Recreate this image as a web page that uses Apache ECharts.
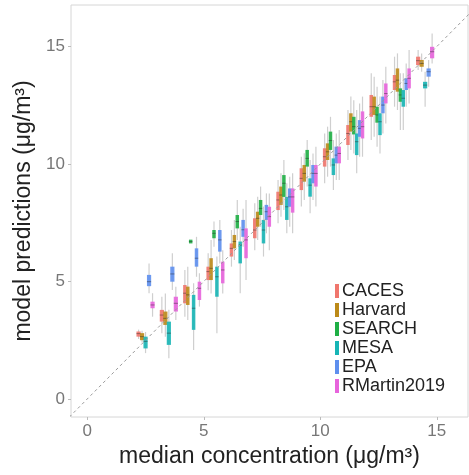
<!DOCTYPE html>
<html>
<head>
<meta charset="utf-8">
<script src="https://cdn.jsdelivr.net/npm/echarts@6/dist/echarts.min.js"></script>
<style>
html,body{margin:0;padding:0;background:#fff;}
#chart{width:469px;height:475px;}
</style>
</head>
<body>
<div id="chart"></div>
<script>
// Models and colours
const models = ['CACES', 'Harvard', 'SEARCH', 'MESA', 'EPA', 'RMartin2019'];
const colors = ['#F0766D', '#BC8A18', '#1FAF45', '#17B5B5', '#5E8FEE', '#E764DC'];

// Each entry: [bin centre, lower whisker, Q1, median, Q3, upper whisker]
const CACES = [
  [2.5, 2.55, 2.65, 2.78, 2.87, 2.95],
  [3.5, 2.80, 3.29, 3.57, 3.79, 4.35],
  [4.5, 3.50, 4.07, 4.50, 4.85, 5.49],
  [5.5, 4.63, 5.06, 5.42, 5.63, 6.20],
  [6.5, 5.63, 6.06, 6.41, 6.62, 7.19],
  [7.5, 6.33, 6.84, 7.19, 7.69, 8.33],
  [8.5, 7.48, 8.04, 8.47, 8.82, 9.32],
  [9.5, 8.19, 8.89, 9.39, 9.82, 10.31],
  [10.5, 9.18, 9.89, 10.31, 10.67, 11.30],
  [11.5, 10.17, 10.81, 11.30, 11.66, 12.30],
  [12.5, 11.02, 12.01, 12.44, 12.94, 13.86],
  [13.5, 12.44, 13.15, 13.50, 13.79, 14.57],
  [14.5, 14.00, 14.21, 14.40, 14.57, 14.85]
];
const Harvard = [
  [2.5, 2.40, 2.50, 2.65, 2.80, 2.90],
  [3.5, 2.65, 3.15, 3.43, 3.72, 4.49],
  [4.5, 3.36, 4.00, 4.43, 4.78, 5.63],
  [5.5, 4.49, 5.06, 5.56, 5.99, 6.77],
  [6.5, 5.91, 6.41, 6.70, 6.98, 7.62],
  [7.5, 6.77, 7.33, 7.69, 7.97, 8.61],
  [8.5, 7.76, 8.26, 8.68, 9.04, 9.61],
  [9.5, 8.47, 9.25, 9.60, 9.96, 10.46],
  [10.5, 9.46, 10.17, 10.52, 10.88, 11.59],
  [11.5, 10.60, 11.38, 11.80, 12.16, 12.87],
  [12.5, 11.16, 12.09, 12.44, 12.87, 13.72],
  [13.5, 12.30, 13.08, 13.57, 14.07, 14.71],
  [14.5, 13.93, 14.14, 14.28, 14.43, 14.71]
];
const SEARCH = [
  [4.5, 6.70, 6.62, 6.70, 6.78, 6.70],
  [5.5, 6.48, 6.84, 7.05, 7.19, 7.55],
  [6.5, 6.77, 7.26, 7.55, 7.83, 8.47],
  [7.5, 7.33, 7.83, 8.11, 8.47, 9.04],
  [8.5, 8.04, 8.60, 9.18, 9.53, 10.17],
  [9.5, 9.04, 9.89, 10.24, 10.60, 11.02],
  [10.5, 9.89, 10.60, 11.00, 11.38, 12.01],
  [11.5, 10.45, 11.26, 11.59, 12.01, 12.72],
  [12.5, 10.74, 11.76, 12.09, 12.44, 13.29],
  [13.5, 11.45, 12.65, 12.94, 13.22, 13.86]
];
const MESA = [
  [2.5, 1.95, 2.15, 2.45, 2.65, 2.85],
  [3.5, 1.73, 2.30, 2.80, 3.29, 3.80],
  [4.5, 2.08, 2.94, 3.86, 4.43, 4.92],
  [5.5, 2.80, 4.35, 5.20, 5.63, 6.06],
  [6.5, 4.50, 5.77, 6.55, 6.70, 7.33],
  [7.5, 6.06, 6.62, 7.19, 7.62, 8.19],
  [8.5, 7.05, 7.62, 8.18, 8.60, 9.18],
  [9.5, 7.90, 8.61, 9.10, 9.39, 10.17],
  [10.5, 8.89, 9.53, 9.96, 10.24, 11.02],
  [11.5, 9.61, 10.38, 10.95, 11.30, 12.30],
  [12.5, 10.45, 11.23, 11.80, 12.16, 12.87],
  [13.5, 11.45, 12.44, 12.80, 13.15, 13.86],
  [14.5, 12.44, 13.22, 13.36, 13.50, 13.93]
];
const EPA = [
  [2.5, 4.50, 4.80, 4.99, 5.28, 5.77],
  [3.5, 4.64, 4.99, 5.32, 5.63, 6.20],
  [4.5, 5.20, 5.63, 5.99, 6.41, 6.90],
  [5.5, 5.77, 6.27, 6.77, 7.19, 7.62],
  [6.5, 6.48, 6.90, 7.20, 7.62, 8.10],
  [7.5, 7.05, 7.62, 7.97, 8.26, 8.75],
  [8.5, 7.33, 8.18, 8.60, 8.96, 9.46],
  [9.5, 8.47, 9.18, 9.60, 9.96, 10.45],
  [10.5, 9.32, 10.03, 10.38, 10.74, 11.30],
  [11.5, 10.31, 11.16, 11.52, 11.87, 12.58],
  [12.5, 11.30, 12.16, 12.51, 12.87, 13.58],
  [13.5, 12.44, 13.15, 13.43, 13.65, 14.28],
  [14.5, 13.29, 13.72, 13.93, 14.07, 14.43]
];
const RMartin2019 = [
  [2.5, 3.50, 3.86, 4.00, 4.14, 4.50],
  [3.5, 3.36, 3.72, 4.07, 4.35, 4.78],
  [4.5, 3.93, 4.21, 4.71, 4.99, 5.35],
  [5.5, 4.49, 4.92, 5.49, 5.84, 6.33],
  [6.5, 5.06, 5.99, 6.77, 7.26, 8.47],
  [7.5, 6.33, 7.33, 7.76, 8.18, 8.75],
  [8.5, 7.05, 7.93, 8.60, 8.96, 9.61],
  [9.5, 8.19, 9.04, 9.60, 9.96, 10.74],
  [10.5, 9.32, 10.03, 10.45, 10.74, 11.45],
  [11.5, 10.31, 11.09, 11.59, 12.24, 12.87],
  [12.5, 11.73, 12.58, 13.00, 13.43, 14.14],
  [13.5, 12.58, 13.22, 13.65, 14.07, 14.85],
  [14.5, 14.28, 14.50, 14.78, 14.99, 15.56]
];
const seriesData = [CACES, Harvard, SEARCH, MESA, EPA, RMartin2019];

// Axis ticks
const xTicks = [0, 5, 10, 15];
const yTicks = [0, 5, 10, 15];
const xRange = [-0.7, 16.34];
const yRange = [-0.77, 16.77];

// dodge: count models present in each bin and assign slots in model order
const binCount = {};
seriesData.forEach(arr => arr.forEach(d => { binCount[d[0]] = (binCount[d[0]] || 0) + 1; }));
const slotIdx = {};
const dodged = seriesData.map(arr => arr.map(d => {
  const b = d[0];
  slotIdx[b] = slotIdx[b] === undefined ? 0 : slotIdx[b] + 1;
  return [b, slotIdx[b], binCount[b], d[1], d[2], d[3], d[4], d[5]];
}));

const DODGE = 0.75;
function renderItem(params, api) {
  const x = api.value(0), slot = api.value(1), n = api.value(2);
  const lo = api.value(3), q1 = api.value(4), med = api.value(5), q3 = api.value(6), hi = api.value(7);
  const w = DODGE / n;
  const cx = x - DODGE / 2 + (slot + 0.5) * w;
  const pLo = api.coord([cx, lo]), pHi = api.coord([cx, hi]);
  const pQ1 = api.coord([cx, q1]), pQ3 = api.coord([cx, q3]), pMed = api.coord([cx, med]);
  const bw = Math.max(3.5, api.size([w, 0])[0] * 1.2);
  const color = api.visual('color');
  return {
    type: 'group',
    children: [
      { type: 'line', shape: { x1: pLo[0], y1: pLo[1], x2: pHi[0], y2: pHi[1] },
        style: { stroke: '#cfcfcf', lineWidth: 1.2 } },
      { type: 'rect', shape: { x: pQ3[0] - bw / 2, y: pQ3[1], width: bw, height: pQ1[1] - pQ3[1] },
        style: { fill: color, opacity: 0.9 } },
      { type: 'line', shape: { x1: pMed[0] - bw / 2, y1: pMed[1], x2: pMed[0] + bw / 2, y2: pMed[1] },
        style: { stroke: 'rgba(40,40,40,0.45)', lineWidth: 1 } }
    ]
  };
}

const series = models.map((m, i) => ({
  name: m,
  type: 'custom',
  renderItem: renderItem,
  data: dodged[i],
  encode: { x: 0, y: [3, 7] },
  itemStyle: { color: colors[i] },
  z: 2
}));
series.push({
  name: 'identity',
  type: 'line',
  data: [[Math.min(xRange[0], yRange[0]), Math.min(xRange[0], yRange[0])], [Math.max(xRange[1], yRange[1]), Math.max(xRange[1], yRange[1])]],
  symbol: 'none',
  lineStyle: { color: '#9a9a9a', type: [3, 3], width: 1 },
  silent: true,
  z: 3
});

const chart = echarts.init(document.getElementById('chart'), null, { renderer: 'canvas' });
chart.setOption({
  animation: false,
  backgroundColor: '#fff',
  textStyle: { fontFamily: 'Liberation Sans, Arial, sans-serif' },
  grid: { left: 71, right: 1, top: 5, bottom: 58, show: true, borderColor: '#d6d6d6', borderWidth: 1 },
  legend: {
    data: models,
    orient: 'vertical',
    left: 330,
    top: 277,
    icon: 'rect',
    itemWidth: 4,
    itemHeight: 14,
    itemGap: 1,
    textStyle: { fontSize: 18, color: '#222', fontFamily: 'Liberation Sans, Arial, sans-serif', padding: [0, 0, 0, -2] }
  },
  xAxis: {
    type: 'value',
    min: xRange[0],
    max: xRange[1],
    name: 'median concentration (μg/m³)',
    nameLocation: 'middle',
    nameGap: 27,
    nameTextStyle: { fontSize: 23, color: '#222' },
    axisLine: { show: false, onZero: false },
    axisTick: { show: true, customValues: xTicks, length: 3, lineStyle: { color: '#bbb' } },
    axisLabel: { customValues: xTicks, fontSize: 17, color: '#777', margin: 6 },
    splitLine: { show: false }
  },
  yAxis: {
    type: 'value',
    min: yRange[0],
    max: yRange[1],
    name: 'model predictions (μg/m³)',
    nameLocation: 'middle',
    nameGap: 28,
    nameTextStyle: { fontSize: 23, color: '#222' },
    axisLine: { show: false, onZero: false },
    axisTick: { show: true, customValues: yTicks, length: 3, lineStyle: { color: '#bbb' } },
    axisLabel: { customValues: yTicks, fontSize: 17, color: '#777', margin: 6 },
    splitLine: { show: false }
  },
  series: series
});
</script>
</body>
</html>
